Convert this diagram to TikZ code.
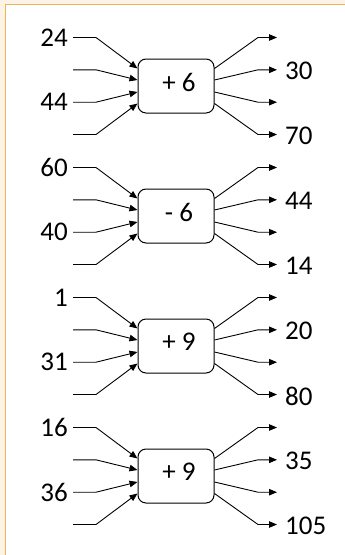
\documentclass[tikz,border=0pt]{standalone}
\usepackage{fontspec}
\setmainfont{Carlito}
\usetikzlibrary{arrows.meta,calc}
\definecolor{cream}{HTML}{FCF2E6}
\definecolor{frameorange}{HTML}{F4B25A}
\tikzset{
  opbox/.style={draw=black, line width=1pt, rounded corners=8pt, minimum width=76pt, minimum height=54pt, inner sep=0pt},
  optext/.style={font=\fontsize{27}{30}\selectfont, inner sep=0pt},
  lbl/.style={font=\fontsize{27}{30}\selectfont, inner sep=0pt},
  conn/.style={line width=0.9pt, -{Triangle[length=8pt,width=6.5pt]}},
}
\begin{document}
\begin{tikzpicture}[x=1pt,y=-1pt]
\useasboundingbox (0,0) rectangle (345,555);
\fill[cream] (0,0) rectangle (345,555);
\fill[white] (5.5,4.5) rectangle (345,555);
\draw[frameorange, line width=1.7pt] (5.5,556) -- (5.5,4.5) -- (346,4.5);
\foreach \k/\op/\la/\lb/\ra/\rb in {0/+ 6/24/44/30/70, 1/- 6/60/40/44/14, 2/+ 9/1/31/20/80, 3/+ 9/16/36/35/105}{
  \pgfmathsetmacro{\c}{86+130*\k}
  \node[opbox] (box\k) at (176,\c) {};
  \node[optext] (op\k) at ([xshift=3pt,yshift=4pt]box\k.center) {\op};
  \foreach \i/\dy/\ey in {1/-48.5/17.5, 2/-16.2/6, 3/16.2/-6, 4/48.5/-17.5}{
    \coordinate (in\k\i) at (73,\c+\dy);
    \coordinate (out\k\i) at (277,\c+\dy);
    \draw[conn] (in\k\i) -- ++(23,0) -- ([yshift=\ey pt]box\k.west);
    \draw[conn] ([yshift=\ey pt]box\k.east) -- ($(out\k\i)+(-19,0)$) -- (out\k\i);
  }
  \node[lbl, anchor=east] (la\k) at ([xshift=-5pt]in\k1) {\la};
  \node[lbl, anchor=east] (lb\k) at ([xshift=-5pt]in\k3) {\lb};
  \node[lbl, anchor=west] (ra\k) at ([xshift=8pt,yshift=-1.5pt]out\k2) {\ra};
  \node[lbl, anchor=west] (rb\k) at ([xshift=8pt,yshift=-1.5pt]out\k4) {\rb};
}
\end{tikzpicture}
\end{document}
